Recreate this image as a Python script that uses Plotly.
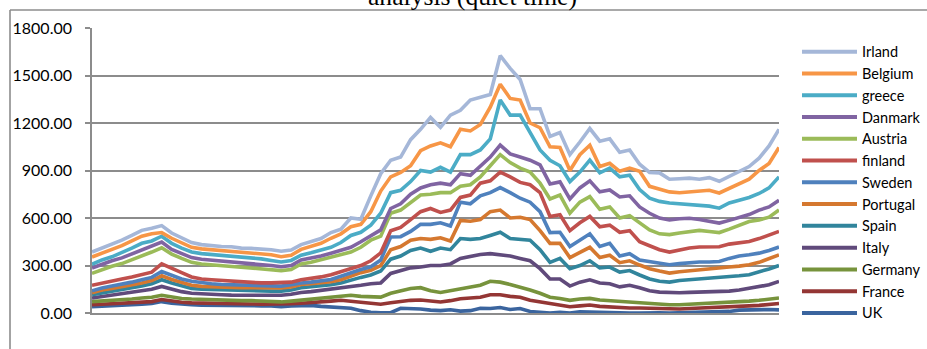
import plotly.graph_objects as go

# Observation index along the (unlabelled) category axis
obs = list(range(70))

# Plotted levels of each country line
irland = [385, 410, 432, 460, 490, 522, 535, 552, 505, 474, 445, 432, 425, 420, 418, 410, 408, 405, 400, 390,
          398, 432, 450, 470, 508, 530, 600, 592, 740, 880, 965, 985, 1095, 1160, 1235, 1172, 1250, 1280, 1345, 1360,
          1380, 1625, 1545, 1475, 1290, 1290, 1115, 1140, 1000, 1080, 1165, 1085, 1100, 1015, 1030, 940, 888, 885, 845, 848,
          852, 845, 855, 832, 865, 892, 925, 978, 1055, 1160]
belgium = [354, 378, 398, 425, 455, 485, 500, 508, 472, 442, 415, 405, 400, 395, 390, 382, 378, 375, 368, 355,
           365, 402, 420, 440, 472, 500, 545, 560, 640, 770, 860, 888, 930, 1025, 1055, 1075, 1050, 1160, 1150, 1190,
           1300, 1445, 1355, 1345, 1200, 1170, 1050, 1045, 900, 1000, 1060, 925, 945, 895, 915, 895, 800, 780, 765, 760,
           765, 765, 775, 758, 785, 815, 845, 900, 945, 1045]
greece = [308, 335, 355, 380, 410, 440, 455, 485, 440, 410, 385, 375, 370, 365, 360, 352, 347, 342, 332, 322,
          332, 365, 380, 395, 415, 445, 490, 510, 555, 630, 760, 775, 830, 900, 890, 920, 890, 1000, 1000, 1030,
          1100, 1345, 1250, 1250, 1140, 1030, 965, 930, 830, 890, 965, 885, 915, 860, 870, 780, 725, 705, 695, 690,
          685, 683, 675, 662, 695, 712, 730, 755, 790, 860]
danmark = [284, 310, 330, 348, 372, 398, 420, 448, 402, 375, 350, 340, 335, 330, 325, 318, 315, 310, 300, 292,
           300, 335, 345, 360, 378, 395, 415, 450, 490, 525, 660, 690, 750, 790, 810, 820, 810, 880, 870, 930,
           985, 1060, 1005, 985, 965, 935, 815, 828, 720, 790, 835, 765, 777, 733, 740, 670, 630, 600, 588, 595,
           598, 590, 580, 568, 585, 605, 622, 650, 670, 712]
austria = [250, 275, 295, 312, 335, 362, 385, 412, 372, 345, 320, 310, 305, 300, 295, 290, 285, 282, 275, 268,
           275, 310, 320, 335, 350, 370, 385, 415, 460, 485, 630, 650, 700, 745, 750, 760, 760, 800, 810, 860,
           930, 1000, 950, 915, 890, 820, 720, 745, 630, 700, 735, 655, 670, 600, 615, 570, 525, 500, 495, 505,
           515, 522, 515, 508, 530, 555, 578, 588, 605, 650]
finland = [175, 190, 205, 215, 228, 245, 258, 310, 280, 255, 228, 215, 210, 205, 200, 195, 192, 190, 190, 190,
           195, 210, 218, 228, 242, 262, 285, 300, 330, 380, 520, 540, 590, 640, 660, 635, 650, 730, 745, 820,
           835, 890, 860, 825, 810, 760, 610, 620, 520, 570, 610, 545, 555, 510, 520, 450, 425, 400, 385, 400,
           410, 417, 415, 418, 435, 445, 452, 470, 490, 515]
sweden = [140, 158, 170, 180, 195, 210, 225, 262, 238, 215, 200, 190, 185, 180, 178, 175, 172, 170, 170, 170,
          178, 190, 195, 202, 212, 232, 255, 275, 292, 335, 480, 482, 515, 560, 560, 570, 550, 700, 690, 740,
          760, 792, 760, 725, 700, 640, 508, 510, 420, 460, 500, 420, 440, 360, 375, 335, 325, 315, 305, 312,
          318, 322, 322, 325, 345, 360, 368, 378, 395, 417]
portugal = [128, 145, 155, 165, 178, 190, 205, 235, 212, 195, 175, 168, 165, 162, 160, 160, 160, 158, 158, 158,
            165, 180, 185, 190, 198, 210, 235, 255, 270, 300, 400, 420, 460, 470, 465, 475, 455, 585, 580, 590,
            640, 650, 600, 605, 590, 520, 440, 440, 350, 385, 415, 350, 365, 318, 330, 303, 280, 265, 252, 260,
            265, 272, 278, 284, 290, 296, 305, 320, 345, 367]
spain = [115, 125, 135, 145, 155, 170, 185, 210, 190, 170, 155, 150, 148, 145, 143, 140, 140, 138, 138, 138,
         145, 160, 165, 170, 178, 190, 210, 225, 240, 265, 340, 360, 395, 410, 390, 410, 400, 470, 465, 470,
         490, 510, 470, 465, 460, 400, 320, 345, 280, 300, 330, 285, 290, 258, 268, 240, 215, 200, 195, 205,
         210, 215, 218, 220, 226, 235, 242, 258, 278, 300]
italy = [95, 105, 112, 120, 130, 140, 150, 168, 150, 135, 125, 120, 118, 115, 113, 112, 112, 112, 112, 112,
         118, 130, 135, 142, 150, 158, 164, 175, 185, 190, 250, 270, 285, 290, 300, 300, 310, 345, 360, 370,
         375, 370, 360, 345, 330, 280, 215, 215, 170, 195, 210, 190, 185, 165, 175, 160, 140, 132, 128, 128,
         130, 132, 132, 133, 138, 145, 155, 165, 178, 200]
germany = [72, 75, 78, 82, 88, 95, 100, 112, 100, 92, 88, 85, 82, 80, 78, 78, 78, 75, 72, 70,
           75, 82, 88, 92, 100, 108, 112, 105, 100, 100, 125, 140, 155, 160, 140, 130, 140, 155, 160, 175,
           200, 195, 180, 165, 145, 125, 100, 92, 80, 88, 92, 82, 78, 70, 70, 65, 60, 55, 52, 52,
           55, 58, 60, 62, 65, 70, 75, 80, 88, 95]
france = [52, 55, 58, 60, 62, 68, 72, 85, 75, 68, 64, 62, 60, 60, 58, 57, 57, 56, 55, 55,
          58, 62, 65, 70, 75, 80, 75, 68, 62, 55, 65, 75, 80, 82, 75, 70, 78, 90, 95, 100,
          115, 115, 105, 100, 80, 70, 55, 48, 40, 45, 50, 42, 38, 35, 32, 32, 30, 28, 25, 25,
          28, 30, 32, 35, 38, 40, 45, 48, 55, 60]
uk = [40, 42, 44, 46, 50, 55, 60, 72, 62, 55, 52, 50, 50, 48, 48, 47, 46, 45, 44, 40,
      45, 48, 48, 42, 38, 33, 30, 15, 5, 2, 2, 30, 28, 25, 18, 15, 20, 12, 15, 30,
      28, 35, 22, 28, 10, 5, 0, 5, 0, 8, 6, 2, 0, 0, 0, 0, 2, 2, 0, 2,
      3, 5, 5, 6, 10, 18, 20, 22, 22, 20]

names = ["Irland", "Belgium", "greece", "Danmark", "Austria", "finland", "Sweden",
         "Portugal", "Spain", "Italy", "Germany", "France", "UK"]
series = [irland, belgium, greece, danmark, austria, finland, sweden,
          portugal, spain, italy, germany, france, uk]
colors = ["#A5B7D8", "#F79646", "#4BACC6", "#8064A2", "#9BBB59", "#C0504D", "#4F81BD",
          "#D5782F", "#31859C", "#604A7B", "#77933C", "#943634", "#3A649E"]

yticks = [0, 300, 600, 900, 1200, 1500, 1800]

GRID = "#8C8C8C"
W, H = 927, 349
L, R, T, B = 92, 779, 28, 313  # plot area in pixels


def px_x(px):
    return (px - L) / (R - L)


def px_y(py):
    return (B - py) / (B - T)


fig = go.Figure()
# bottom series first so the upper lines sit on top
for name, vals, col in reversed(list(zip(names, series, colors))):
    fig.add_trace(go.Scatter(x=obs, y=vals, mode="lines", name=name,
                             line=dict(color=col, width=3.6), showlegend=False))

shapes = []
annotations = []
# legend drawn as line samples plus labels
row0, step = 51.7, 21.77
for k, (name, col) in enumerate(zip(names, colors)):
    yy = px_y(row0 + k * step)
    shapes.append(dict(type="line", xref="paper", yref="paper",
                       x0=px_x(802), x1=px_x(857), y0=yy, y1=yy,
                       line=dict(color=col, width=4)))
    annotations.append(dict(text=name, xref="paper", yref="paper", x=px_x(860), y=yy,
                            xanchor="left", yanchor="middle", showarrow=False,
                            font=dict(family="Lato", size=14.5, color="#000000")))

# chart frame (top and left edges)
shapes.append(dict(type="line", xref="paper", yref="paper", x0=px_x(10), x1=px_x(930),
                   y0=px_y(10), y1=px_y(10), line=dict(color=GRID, width=1.6)))
shapes.append(dict(type="line", xref="paper", yref="paper", x0=px_x(10), x1=px_x(10),
                   y0=px_y(10), y1=px_y(352), line=dict(color=GRID, width=1.6)))

annotations.append(dict(text="analysis (quiet time)", xref="paper", yref="paper",
                        x=px_x(472.5), y=px_y(-3.5), xanchor="center", yanchor="middle",
                        showarrow=False,
                        font=dict(family="Liberation Serif", size=25.6, color="#000000")))

fig.update_layout(
    width=W, height=H,
    margin=dict(l=L, r=W - R, t=T, b=H - B, pad=0),
    paper_bgcolor="white", plot_bgcolor="white",
    showlegend=False,
    shapes=shapes, annotations=annotations,
    xaxis=dict(range=[0, len(obs) - 1], showticklabels=False, showgrid=False,
               zeroline=False, showline=True, linecolor=GRID, linewidth=1.6, ticks=""),
    yaxis=dict(range=[0, 1800], tickvals=yticks, ticktext=[f"{v:.2f}" for v in yticks],
               showgrid=True, gridcolor=GRID, gridwidth=1.6, zeroline=False,
               showline=True, linecolor=GRID, linewidth=1.6,
               ticks="outside", ticklen=5, tickcolor=GRID, tickwidth=1.6,
               ticklabelstandoff=10,
               tickfont=dict(family="Lato", size=16, color="#000000")),
)

fig.write_html("out.html")
